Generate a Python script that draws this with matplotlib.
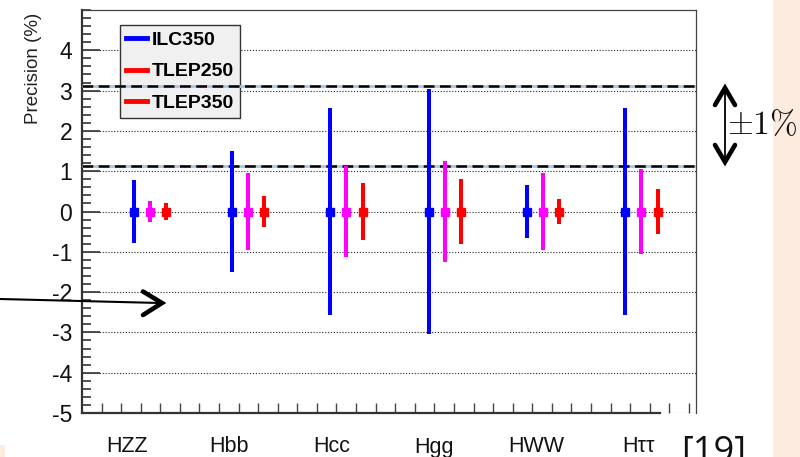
import numpy as np
import matplotlib
matplotlib.use('Agg')
import matplotlib.pyplot as plt
from matplotlib.lines import Line2D
from matplotlib.patches import Rectangle
import matplotlib.transforms as mtransforms

# data (precision in %, symmetric errors)
channels = ['HZZ', 'Hbb', 'Hcc', 'Hgg', 'HWW', 'H\u03c4\u03c4']
ilc350 = [0.77, 1.50, 2.57, 3.05, 0.65, 2.57]
tlep250 = [0.25, 0.95, 1.14, 1.25, 0.96, 1.05]
tlep350 = [0.22, 0.38, 0.71, 0.80, 0.30, 0.55]
band_lines = [3.12, 1.14]

W, H = 800, 457


def px(x, y):
    return x / W, 1 - y / H


plt.rcParams['font.family'] = ['Liberation Sans', 'DejaVu Sans']
plt.rcParams['mathtext.fontset'] = 'cm'
fig = plt.figure(figsize=(8, 4.57), dpi=100)

# slide background bits
fig.add_artist(Rectangle(px(773, 457), 27 / W, 1, transform=fig.transFigure,
                         facecolor='#fdebdf', edgecolor='none', zorder=0))
fig.add_artist(Rectangle(px(0, 457), 5 / W, 12 / H, transform=fig.transFigure,
                         facecolor='#fdebdf', edgecolor='none', zorder=0))

ax = fig.add_axes([82 / W, 1 - 413 / H, 614 / W, 403 / H])
xlim = (-0.525, 5.72)
ax.set_xlim(*xlim)
ax.set_ylim(-5, 5)

x = np.arange(len(channels))
offs = [0.0, 0.163, 0.33]
colors = ['#0000ff', '#ff00ff', '#ff0000']
for vals, off, c in zip([ilc350, tlep250, tlep350], offs, colors):
    ax.errorbar(x + off, np.zeros(len(vals)), yerr=vals, fmt='s', color=c,
                ms=6, elinewidth=2.9, capsize=0, zorder=6)

for yv in band_lines:
    ax.axhline(yv, color='#a9c6e3', lw=2.0, zorder=3)
    ax.axhline(yv, color='black', lw=1.8, ls=(0, (4.3, 2.2)), zorder=4)

# axes styling
ax.set_yticks(np.arange(-5, 5, 1))
ax.set_yticks(np.arange(-5, 5.01, 0.2), minor=True)
ax.set_yticklabels([str(v) for v in range(-5, 5)])
step = 0.1991
ax.set_xticks(xlim[0] + step * np.arange(1, 32))
ax.set_xticklabels([])
ax.tick_params(axis='y', which='major', direction='in', length=13, width=1.2,
               color='#333333', labelsize=16.5, pad=7, labelcolor='#111111')
ax.tick_params(axis='y', which='minor', direction='in', length=6.5, width=1.2,
               color='#333333')
ax.tick_params(axis='x', which='major', direction='in', length=7.5, width=1.0,
               color='#444444')
ax.grid(axis='y', which='major', color='#222222', lw=0.8, ls=(0, (1, 1.6)))
ax.set_axisbelow(True)
for s in ['top', 'right']:
    ax.spines[s].set_linewidth(0.9)
    ax.spines[s].set_color('#444444')
ax.spines['left'].set_linewidth(1.6)
ax.spines['left'].set_color('#333333')
ax.spines['bottom'].set_linewidth(1.6)
ax.spines['bottom'].set_color('#333333')
ax.spines['bottom'].set_bounds(xlim[0], 5.354)

# category labels
trans = mtransforms.blended_transform_factory(ax.transData, fig.transFigure)
for i, name in enumerate(channels):
    ax.text(-0.067 + 1.04 * i, 1 - 447 / H, name, transform=trans,
            ha='center', va='center', fontsize=15.5, color='#111111')

fig.text(*px(33, 68), 'Precision (%)', rotation=90, ha='center', va='center',
         fontsize=13.5, color='#222222')

handles = [Line2D([], [], color=c, lw=3.5) for c in ['#0000ff', '#ff0000', '#ff0000']]
leg = ax.legend(handles, ['ILC350', 'TLEP250', 'TLEP350'], loc='upper left',
                bbox_to_anchor=(38 / 614, (413 - 25) / 403), borderaxespad=0,
                fancybox=False, facecolor='#f0f0f0', edgecolor='#333333',
                framealpha=1, prop={'weight': 'bold', 'size': 14},
                handlelength=1.05, handletextpad=0.25, labelspacing=0.72,
                borderpad=0.32)
leg.get_frame().set_linewidth(1.0)
leg.set_zorder(2.5)

# annotation arrows
fig.add_artist(Line2D([px(0, 0)[0], px(160, 0)[0]], [px(0, 299)[1], px(0, 303)[1]],
                      transform=fig.transFigure, color='black', lw=1.5))
hx, hy = zip(px(143, 291.5), px(162, 303), px(143, 315))
fig.add_artist(Line2D(hx, hy, transform=fig.transFigure, color='black', lw=3.3,
                      solid_joinstyle='miter', solid_capstyle='round'))
fig.add_artist(Line2D([px(725, 0)[0]] * 2, [px(0, 89)[1], px(0, 161)[1]],
                      transform=fig.transFigure, color='black', lw=1.3))
for tip, back in [(88, 105), (162, 145)]:
    hx, hy = zip(px(715, back), px(725, tip), px(735, back))
    fig.add_artist(Line2D(hx, hy, transform=fig.transFigure, color='black', lw=3.3,
                          solid_joinstyle='miter', solid_capstyle='round'))

fig.text(*px(727, 134), r'$\pm1\%$', ha='left', va='baseline', fontsize=24,
         color='#111111')
fig.text(*px(681, 435), '[19]', ha='left', va='top', fontsize=26,
         family=['Open Sans', 'DejaVu Sans'], color='#111111')

fig.savefig('out.png', dpi=100)
